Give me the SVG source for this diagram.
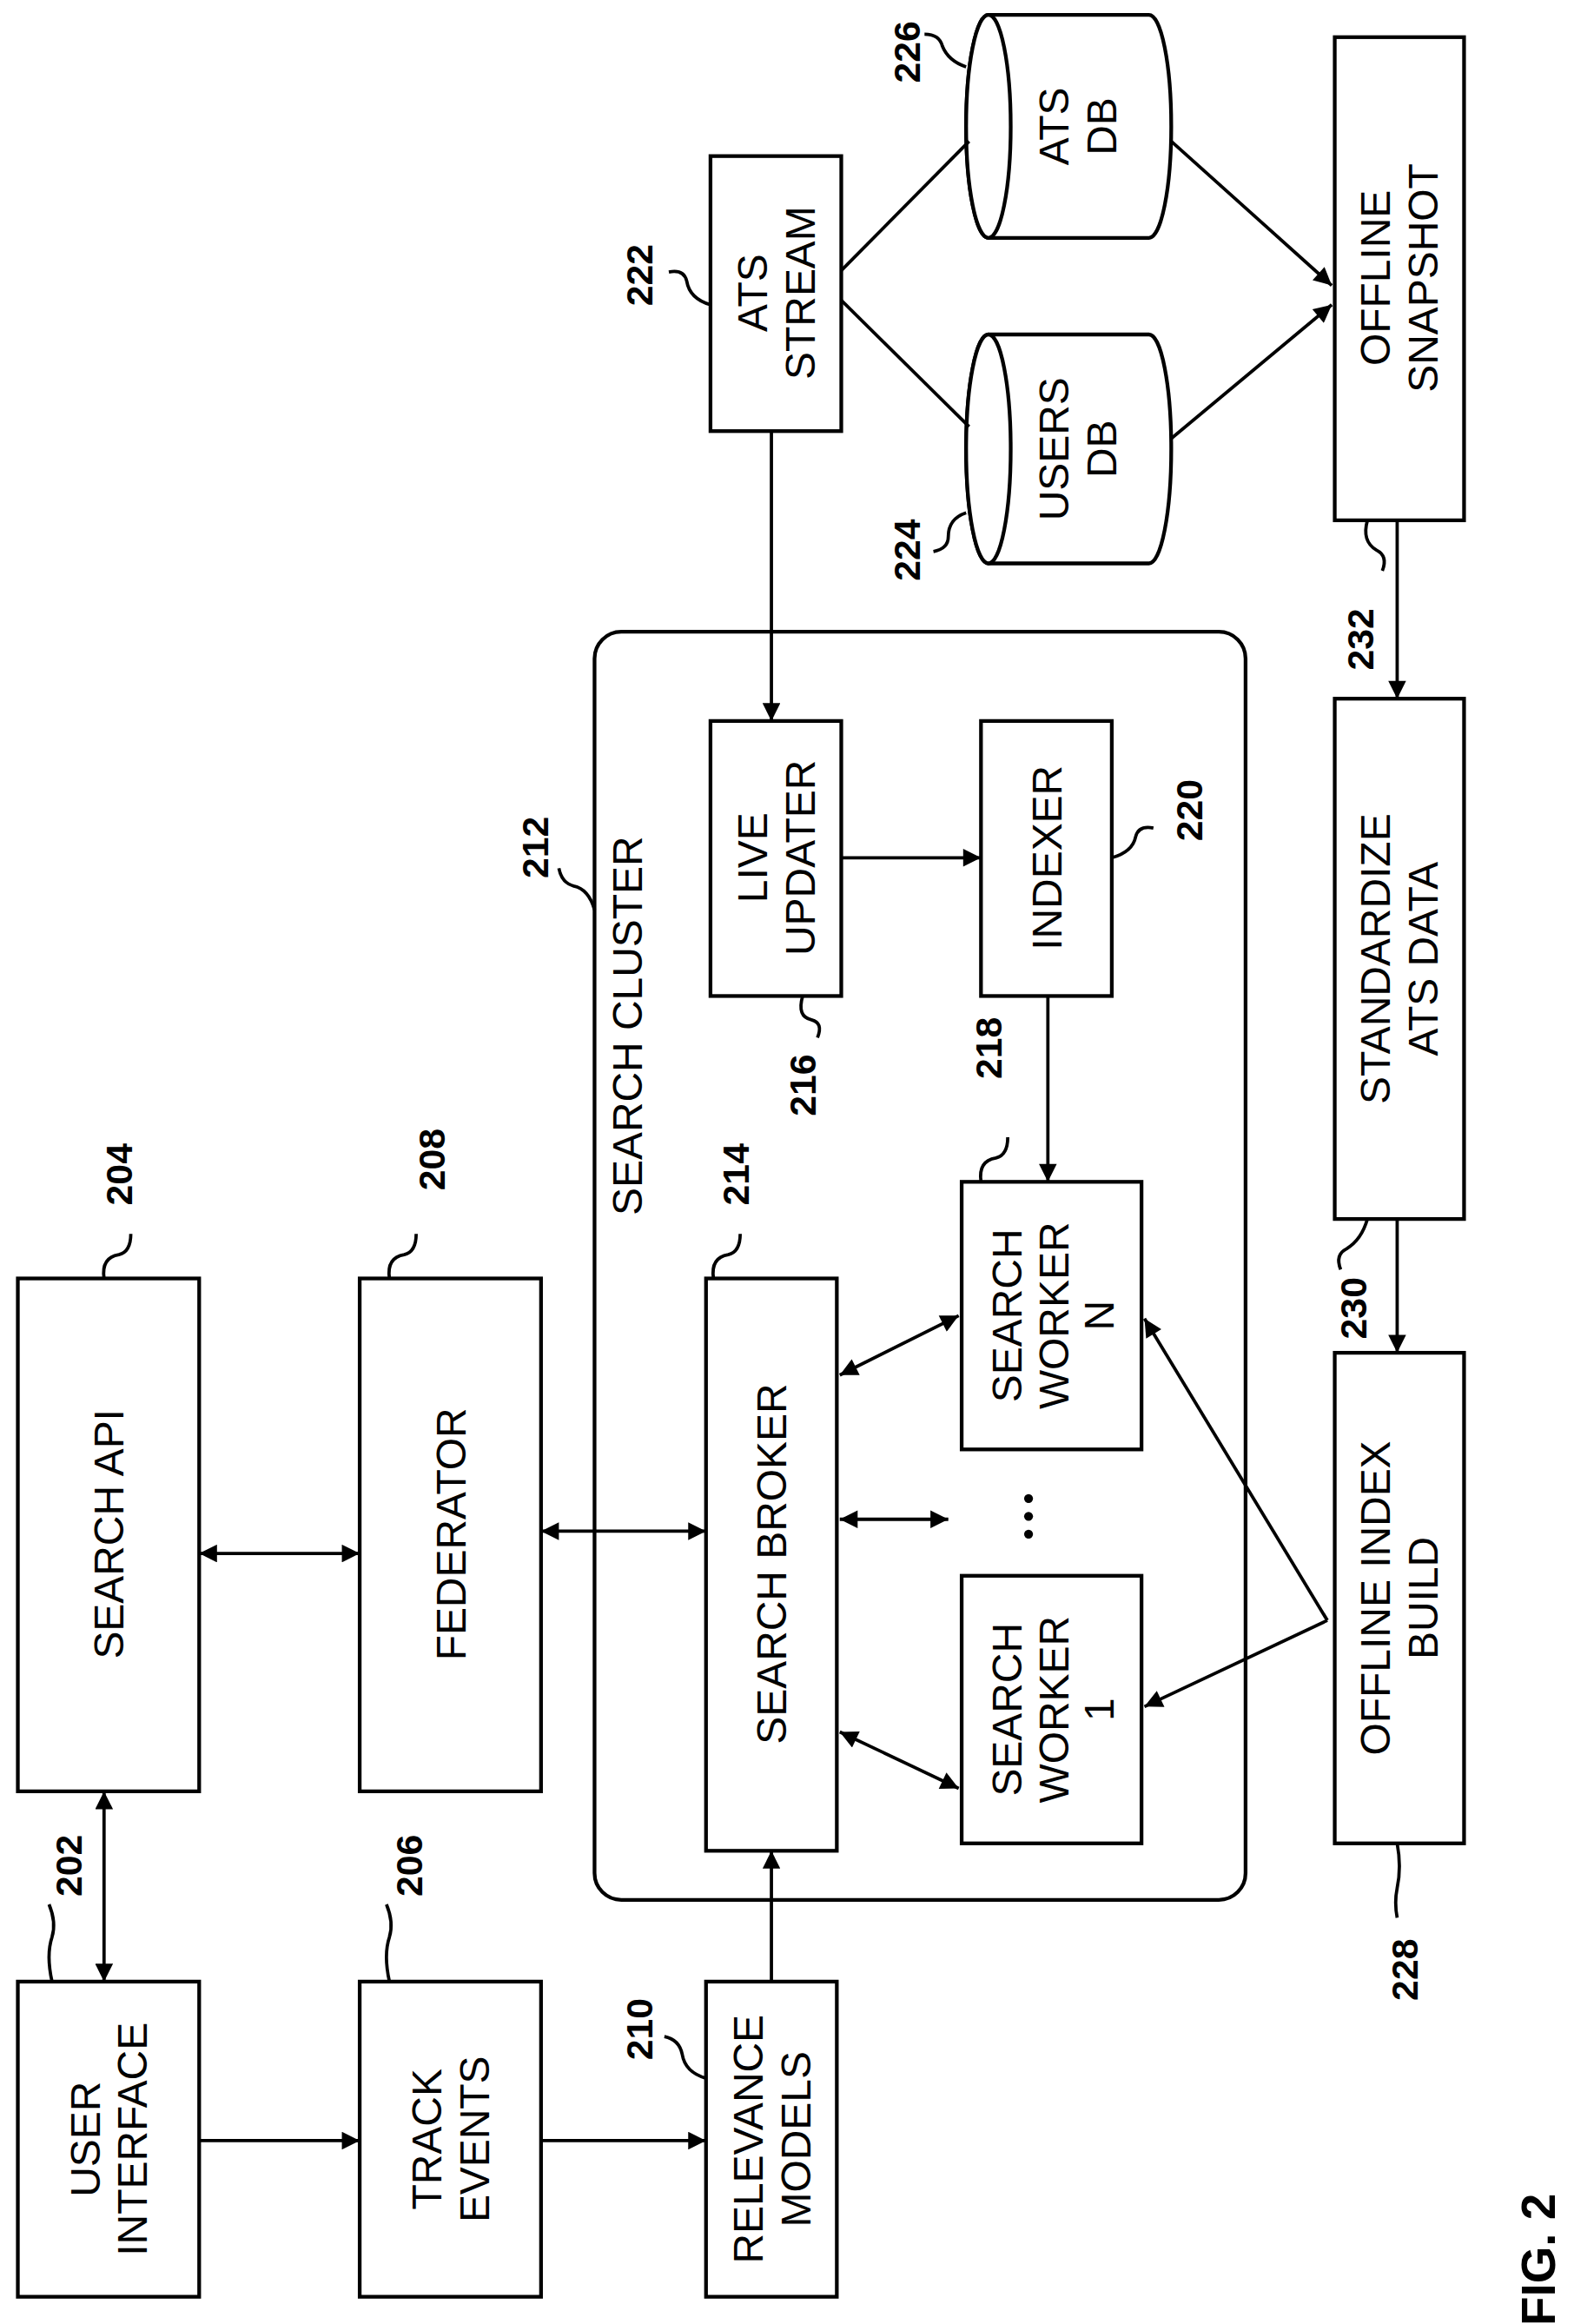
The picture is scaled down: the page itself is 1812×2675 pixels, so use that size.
<svg xmlns="http://www.w3.org/2000/svg" width="1812" height="2675" viewBox="0 0 1812 2675">
<style>
.b{fill:#fff;stroke:#000;stroke-width:2.5}
.t{font-family:"Liberation Sans",Arial,sans-serif;font-size:28px;text-anchor:middle;fill:#000}
.n{font-family:"Liberation Sans",Arial,sans-serif;font-size:25px;font-weight:bold;text-anchor:middle;fill:#000}
.c{fill:none;stroke:#000;stroke-width:2.2}
.a{marker-end:url(#ah)}
.d{marker-start:url(#ah);marker-end:url(#ah)}
</style>
<defs>
<marker id="ah" viewBox="0 0 10 10" refX="10" refY="5" markerWidth="13" markerHeight="12" markerUnits="userSpaceOnUse" orient="auto-start-reverse"><path d="M0,0 L10,5 L0,10 Z" fill="#000"/></marker>
</defs>
<rect width="1812" height="2675" fill="#fff"/>
<g transform="scale(1.7111)">
<g id="n212"><rect class="b" x="400" y="425" width="438" height="853" rx="18"/><text class="t" transform="translate(432,690) rotate(-90)">SEARCH CLUSTER</text></g>
<g id="n202"><rect class="b" x="12" y="1333" width="122" height="212"/><text class="t" transform="translate(73,1439) rotate(-90)"><tspan x="0" y="-6">USER</tspan><tspan x="0" y="26">INTERFACE</tspan></text></g>
<g id="n204"><rect class="b" x="12" y="860" width="122" height="345"/><text class="t" transform="translate(73,1032) rotate(-90)" dy="10">SEARCH API</text></g>
<g id="n206"><rect class="b" x="242" y="1333" width="122" height="212"/><text class="t" transform="translate(303,1439) rotate(-90)"><tspan x="0" y="-6">TRACK</tspan><tspan x="0" y="26">EVENTS</tspan></text></g>
<g id="n208"><rect class="b" x="242" y="860" width="122" height="345"/><text class="t" transform="translate(303,1032) rotate(-90)" dy="10">FEDERATOR</text></g>
<g id="n210"><rect class="b" x="475" y="1333" width="88" height="212"/><text class="t" transform="translate(519,1439) rotate(-90)"><tspan x="0" y="-6">RELEVANCE</tspan><tspan x="0" y="26">MODELS</tspan></text></g>
<g id="n214"><rect class="b" x="475" y="860" width="88" height="385"/><text class="t" transform="translate(519,1052) rotate(-90)" dy="10">SEARCH BROKER</text></g>
<g id="n218a"><rect class="b" x="647" y="1060" width="121" height="180"/><text class="t" transform="translate(707,1150) rotate(-90)"><tspan x="0" y="-20">SEARCH</tspan><tspan x="0" y="12">WORKER</tspan><tspan x="0" y="42">1</tspan></text></g>
<g id="n218"><rect class="b" x="647" y="795" width="121" height="180"/><text class="t" transform="translate(707,885) rotate(-90)"><tspan x="0" y="-20">SEARCH</tspan><tspan x="0" y="12">WORKER</tspan><tspan x="0" y="42">N</tspan></text></g>
<g id="dots"><circle cx="692" cy="1008" r="3"/><circle cx="692" cy="1020" r="3"/><circle cx="692" cy="1032" r="3"/></g>
<g id="n216"><rect class="b" x="478" y="485" width="88" height="185"/><text class="t" transform="translate(522,577) rotate(-90)"><tspan x="0" y="-6">LIVE</tspan><tspan x="0" y="26">UPDATER</tspan></text></g>
<g id="n220"><rect class="b" x="660" y="485" width="88" height="185"/><text class="t" transform="translate(704,577) rotate(-90)" dy="10">INDEXER</text></g>
<g id="n222"><rect class="b" x="478" y="105" width="88" height="185"/><text class="t" transform="translate(522,197) rotate(-90)"><tspan x="0" y="-6">ATS</tspan><tspan x="0" y="26">STREAM</tspan></text></g>
<g id="n224"><path class="b" d="M665,225 L773,225 A15,77 0 0 1 773,379 L665,379 A15,77 0 0 1 665,225 Z"/><ellipse class="b" cx="665" cy="302" rx="15" ry="77"/><text class="t" transform="translate(725,302) rotate(-90)"><tspan x="0" y="-6">USERS</tspan><tspan x="0" y="26">DB</tspan></text></g>
<g id="n226"><path class="b" d="M665,10 L773,10 A15,75 0 0 1 773,160 L665,160 A15,75 0 0 1 665,10 Z"/><ellipse class="b" cx="665" cy="85" rx="15" ry="75"/><text class="t" transform="translate(725,85) rotate(-90)"><tspan x="0" y="-6">ATS</tspan><tspan x="0" y="26">DB</tspan></text></g>
<g id="n-snap"><rect class="b" x="898" y="25" width="87" height="325"/><text class="t" transform="translate(941,187) rotate(-90)"><tspan x="0" y="-6">OFFLINE</tspan><tspan x="0" y="26">SNAPSHOT</tspan></text></g>
<g id="n-std"><rect class="b" x="898" y="470" width="87" height="350"/><text class="t" transform="translate(941,645) rotate(-90)"><tspan x="0" y="-6">STANDARDIZE</tspan><tspan x="0" y="26">ATS DATA</tspan></text></g>
<g id="n-oib"><rect class="b" x="898" y="910" width="87" height="330"/><text class="t" transform="translate(941,1075) rotate(-90)"><tspan x="0" y="-6">OFFLINE INDEX</tspan><tspan x="0" y="26">BUILD</tspan></text></g>
<g id="connectors">
<line class="c d" x1="70" y1="1205" x2="70" y2="1333"/>
<line class="c a" x1="134" y1="1440" x2="242" y2="1440"/>
<line class="c a" x1="364" y1="1440" x2="475" y2="1440"/>
<line class="c d" x1="134" y1="1045" x2="242" y2="1045"/>
<line class="c d" x1="364" y1="1030" x2="475" y2="1030"/>
<line class="c a" x1="519" y1="1333" x2="519" y2="1245"/>
<line class="c d" x1="565" y1="1165" x2="645" y2="1203"/>
<line class="c d" x1="565" y1="1022" x2="638" y2="1022"/>
<line class="c d" x1="565" y1="925" x2="645" y2="885"/>
<line class="c a" x1="519" y1="290" x2="519" y2="485"/>
<line class="c a" x1="566" y1="577" x2="660" y2="577"/>
<line class="c a" x1="705" y1="670" x2="705" y2="795"/>
<line class="c a" x1="893" y1="1090" x2="770" y2="1148"/>
<line class="c a" x1="893" y1="1090" x2="770" y2="887"/>
<line class="c" x1="566" y1="182" x2="652" y2="95"/>
<line class="c" x1="566" y1="202" x2="652" y2="287"/>
<line class="c a" x1="788" y1="95" x2="896" y2="192"/>
<line class="c a" x1="788" y1="295" x2="896" y2="205"/>
<line class="c a" x1="940" y1="350" x2="940" y2="470"/>
<line class="c a" x1="940" y1="820" x2="940" y2="910"/>
<path class="c" d="M35,1333 q-4,-18 0,-30 q3,-10 -2,-22"/>
<path class="c" d="M70,860 q-2,-14 10,-16 q8,-2 8,-14"/>
<path class="c" d="M262,1333 q-4,-18 0,-30 q3,-10 -2,-22"/>
<path class="c" d="M262,860 q-2,-14 10,-16 q8,-2 8,-14"/>
<path class="c" d="M475,1398 q-14,-4 -16,-16 q-2,-10 -12,-12"/>
<path class="c" d="M400,612 q-4,-14 -14,-16 q-8,-2 -10,-12"/>
<path class="c" d="M480,860 q-2,-14 10,-16 q8,-2 8,-14"/>
<path class="c" d="M540,670 q-4,14 6,16 q8,2 4,12"/>
<path class="c" d="M660,795 q-2,-14 10,-16 q8,-2 8,-14"/>
<path class="c" d="M748,577 q14,-4 16,-14 q2,-8 12,-6"/>
<path class="c" d="M478,205 q-14,-4 -16,-16 q-2,-8 -12,-6"/>
<path class="c" d="M650,345 q-12,4 -12,16 q0,8 -10,10"/>
<path class="c" d="M650,45 q-12,-4 -16,-14 q-2,-8 -12,-8"/>
<path class="c" d="M940,1240 q3,16 0,30 q-2,10 0,20"/>
<path class="c" d="M920,820 q-4,14 -14,20 q-8,4 -4,14"/>
<path class="c" d="M920,350 q-4,14 6,20 q8,4 4,14"/>
</g>
<g id="labels">
<text class="n" transform="translate(46,1255) rotate(-90)" dy="9">202</text>
<text class="n" transform="translate(80,790) rotate(-90)" dy="9">204</text>
<text class="n" transform="translate(275,1255) rotate(-90)" dy="9">206</text>
<text class="n" transform="translate(290,780) rotate(-90)" dy="9">208</text>
<text class="n" transform="translate(430,1365) rotate(-90)" dy="9">210</text>
<text class="n" transform="translate(360,570) rotate(-90)" dy="9">212</text>
<text class="n" transform="translate(495,790) rotate(-90)" dy="9">214</text>
<text class="n" transform="translate(540,730) rotate(-90)" dy="9">216</text>
<text class="n" transform="translate(665,705) rotate(-90)" dy="9">218</text>
<text class="n" transform="translate(800,545) rotate(-90)" dy="9">220</text>
<text class="n" transform="translate(430,185) rotate(-90)" dy="9">222</text>
<text class="n" transform="translate(610,370) rotate(-90)" dy="9">224</text>
<text class="n" transform="translate(610,35) rotate(-90)" dy="9">226</text>
<text class="n" transform="translate(945,1325) rotate(-90)" dy="9">228</text>
<text class="n" transform="translate(910,880) rotate(-90)" dy="9">230</text>
<text class="n" transform="translate(915,430) rotate(-90)" dy="9">232</text>
<text class="n" transform="translate(1035,1520) rotate(-90)" dy="11" style="font-size:32px">FIG. 2</text>
</g>
</g>
</svg>
